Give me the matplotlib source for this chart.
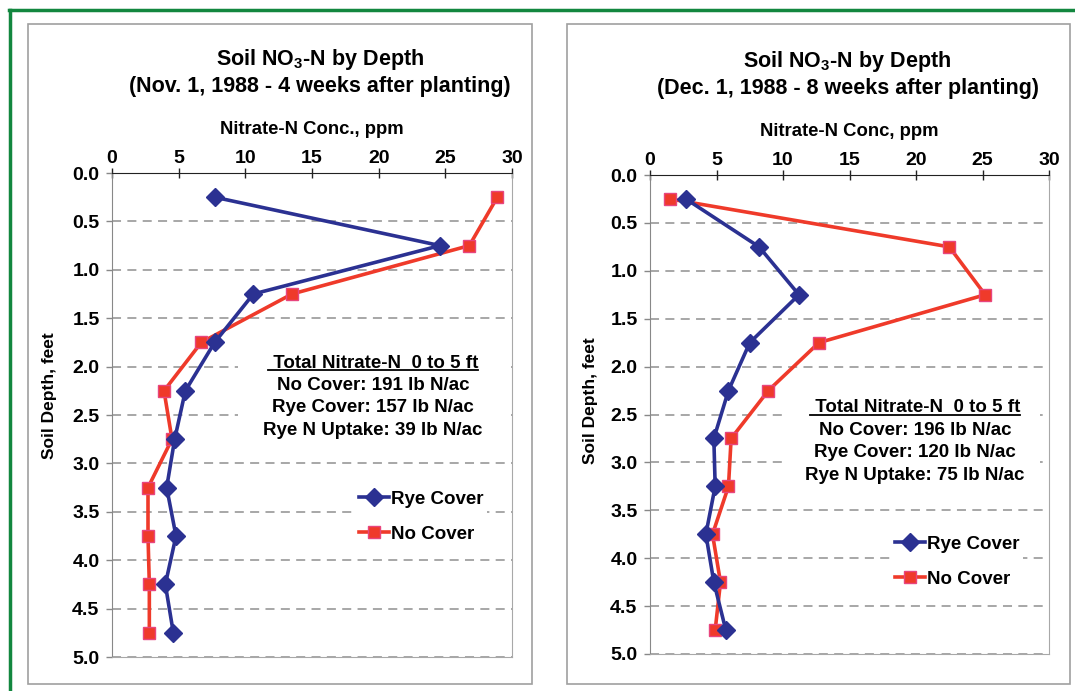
import numpy as np
import matplotlib
matplotlib.use("Agg")
import matplotlib.pyplot as plt
from matplotlib.patches import Rectangle
from matplotlib.lines import Line2D

plt.rcParams['font.family'] = ['Liberation Sans', 'DejaVu Sans']
plt.rcParams['font.weight'] = 'bold'
plt.rcParams['mathtext.fontset'] = 'custom'
plt.rcParams['mathtext.rm'] = 'Liberation Sans:bold'
plt.rcParams['mathtext.it'] = 'Liberation Sans:bold'
plt.rcParams['mathtext.bf'] = 'Liberation Sans:bold'

# depth of each sample (ft)
depth = [0.25, 0.75, 1.25, 1.75, 2.25, 2.75, 3.25, 3.75, 4.25, 4.75]

# Nov. 1, 1988
nov_rye = [7.7, 24.6, 10.6, 7.7, 5.5, 4.7, 4.1, 4.8, 4.0, 4.6]
nov_nocover = [28.9, 26.8, 13.5, 6.7, 3.9, 4.5, 2.7, 2.7, 2.8, 2.8]

# Dec. 1, 1988
dec_rye = [2.7, 8.2, 11.2, 7.5, 5.9, 4.8, 4.9, 4.2, 4.8, 5.7]
dec_nocover = [1.5, 22.5, 25.2, 12.7, 8.9, 6.1, 5.9, 4.7, 5.3, 4.9]

titles = ['Soil NO$_3$-N by Depth\n(Nov. 1, 1988 - 4 weeks after planting)',
          'Soil NO$_3$-N by Depth\n(Dec. 1, 1988 - 8 weeks after planting)']
xlabels = ['Nitrate-N Conc., ppm', 'Nitrate-N Conc, ppm']
totals_head = ' Total Nitrate-N  0 to 5 ft'
totals = ['No Cover: 191 lb N/ac\nRye Cover: 157 lb N/ac\nRye N Uptake: 39 lb N/ac',
          'No Cover: 196 lb N/ac\nRye Cover: 120 lb N/ac\nRye N Uptake: 75 lb N/ac']

BLUE = '#2B3192'
RED = '#EF3A2A'
W, H = 1075, 691

fig = plt.figure(figsize=(W / 100, H / 100), dpi=100, facecolor='white')


def px(x0, y0, x1, y1):
    return [x0 / W, 1 - y1 / H, (x1 - x0) / W, (y1 - y0) / H]


# green frame of the page and the two grey panel boxes
fig.add_artist(Line2D([9 / W, 1], [1 - 10 / H, 1 - 10 / H], color='#12873F', lw=2.5))
fig.add_artist(Line2D([10 / W, 10 / W], [0, 1 - 10 / H], color='#12873F', lw=2.5))
for x0, x1 in [(28, 532), (567, 1070)]:
    fig.add_artist(Rectangle((x0 / W, 1 - 684 / H), (x1 - x0) / W, (684 - 24) / H,
                             transform=fig.transFigure, fill=False, ec='#A0A0A0', lw=1.2))

axes_px = [(112, 173, 512, 657), (650, 175, 1049, 654)]
data = [(nov_rye, nov_nocover), (dec_rye, dec_nocover)]
box_px = [(238, 345, 508, 442), (788, 392, 1040, 486)]
text_pos = [(373, 363), (915, 408)]
leg_pos = [(355, 487), (891, 532)]
title_x = [0.52, 0.495]
ylab_y = [0.54, 0.53]

for i in range(2):
    ax = fig.add_axes(px(*axes_px[i]))
    rye, nocov = data[i]
    ax.plot(rye, depth, color=BLUE, lw=2.6, marker='D', ms=9, mfc=BLUE, mec=BLUE,
            label='Rye Cover', zorder=5)
    ax.plot(nocov, depth, color=RED, lw=2.6, marker='s', ms=8, mfc=RED, mec='#E8457E',
            mew=1, label='No Cover', zorder=4)
    ax.set_xlim(0, 30)
    ax.set_ylim(5, 0)
    ax.set_xticks(np.arange(0, 31, 5))
    ax.set_yticks(np.arange(0, 5.01, 0.5))
    ax.set_yticklabels(['%.1f' % v for v in np.arange(0, 5.01, 0.5)])
    ax.xaxis.tick_top()
    ax.xaxis.set_label_position('top')
    ax.tick_params(axis='x', direction='inout', length=7, width=1, labelsize=14, pad=1,
                   color='#222222')
    ax.tick_params(axis='y', direction='out', length=4, width=1, labelsize=14, pad=5,
                   color='#888888')
    ax.spines['top'].set_color('#222222')
    ax.spines['left'].set_color('#888888')
    ax.spines['right'].set_color('#A8A8A8')
    ax.spines['bottom'].set_color('#A8A8A8')
    ax.grid(axis='y', color='#A0A0A0', ls=(0, (5, 3.5)), lw=1.3)
    ax.set_xlabel(xlabels[i], fontsize=13.3, fontweight='bold', labelpad=11)
    ax.set_ylabel('Soil Depth, feet', fontsize=12.5, fontweight='bold')
    ax.yaxis.set_label_coords(-0.1375 if i == 0 else -0.13, ylab_y[i])
    ax.set_title(titles[i], fontsize=15.5, fontweight='bold', pad=58, linespacing=1.3,
                 x=title_x[i])

    # white backing behind the totals text
    bx0, by0, bx1, by1 = box_px[i]
    fig.add_artist(Rectangle((bx0 / W, 1 - by1 / H), (bx1 - bx0) / W, (by1 - by0) / H,
                             transform=fig.transFigure, fc='white', ec='none', zorder=2))
    tx, ty = text_pos[i]
    head = fig.text(tx / W, 1 - ty / H, totals_head, ha='center', va='center',
                    fontsize=13.5, fontweight='bold', zorder=6)
    fig.text(tx / W, 1 - (ty + 14) / H, totals[i], ha='center', va='top',
             fontsize=13.5, fontweight='bold', linespacing=1.42, zorder=6)

    lx, ly = leg_pos[i]
    leg = ax.legend(loc='upper left', bbox_to_anchor=((lx - axes_px[i][0]) / (axes_px[i][2] - axes_px[i][0]),
                                                     1 - (ly - axes_px[i][1]) / (axes_px[i][3] - axes_px[i][1])),
                    frameon=True, facecolor='white', edgecolor='none', framealpha=1,
                    fontsize=13.5, handlelength=1.6, handletextpad=0.12, labelspacing=0.95,
                    borderpad=0.2, borderaxespad=0, fancybox=False)
    for t in leg.get_texts():
        t.set_fontweight('bold')

    # underline of the totals heading
    fig.canvas.draw()
    bb = head.get_window_extent().transformed(fig.transFigure.inverted())
    fig.add_artist(Line2D([bb.x0, bb.x1], [bb.y0 + 0.002, bb.y0 + 0.002], color='black', lw=1.3,
                          zorder=7))

fig.savefig('out.png', dpi=100, facecolor='white')
